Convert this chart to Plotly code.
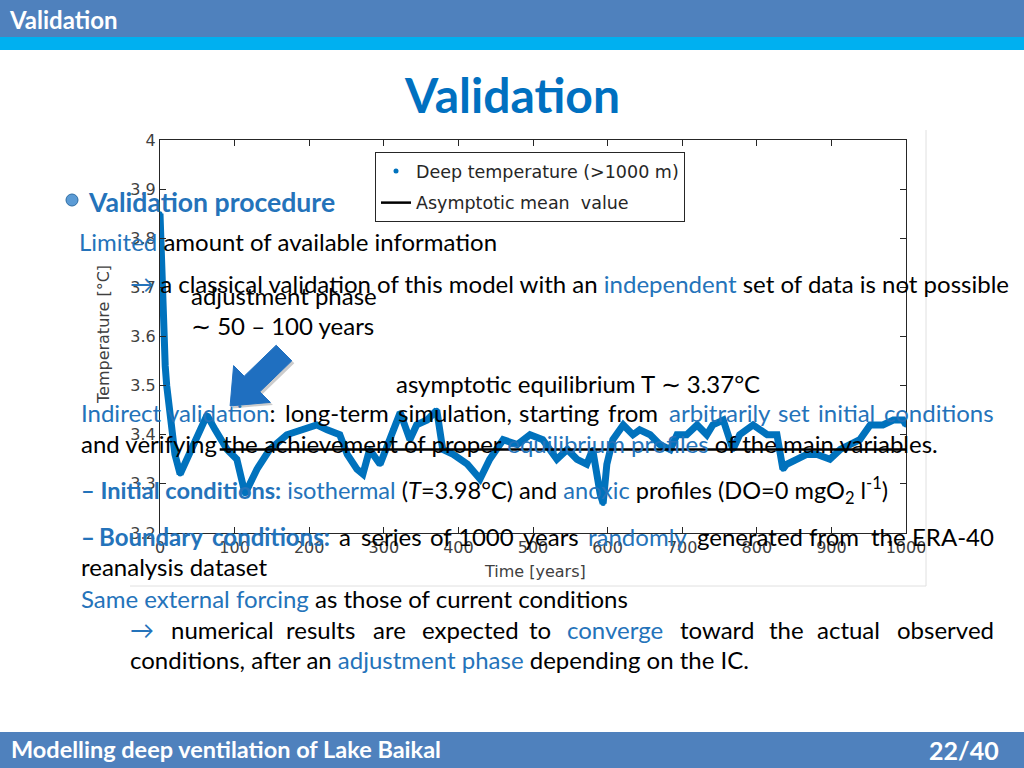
import plotly.graph_objects as go

# ---------------- data ----------------
years = [0, 1, 2, 3, 5, 7, 9, 12, 15, 20, 27, 44, 63, 74, 90, 103, 114, 130, 147, 170,
         188, 210, 224, 241, 251, 264, 272, 281, 295, 312, 322, 335, 344, 358, 371, 379,
         393, 412, 429, 442, 460, 479, 496, 513, 523, 532, 546, 559, 572, 580, 590, 594,
         599, 607, 621, 634, 643, 657, 670, 684, 693, 706, 720, 733, 741, 755, 768, 777,
         795, 814, 827, 835, 840, 854, 867, 881, 898, 912, 925, 938, 952, 969, 983, 996, 1000]
deep_temp = [3.85, 3.80, 3.74, 3.68, 3.60, 3.54, 3.50, 3.46, 3.42, 3.36, 3.32, 3.38, 3.44,
             3.41, 3.37, 3.35, 3.28, 3.33, 3.37, 3.40, 3.41, 3.42, 3.41, 3.40, 3.36, 3.33,
             3.32, 3.37, 3.34, 3.41, 3.445, 3.39, 3.42, 3.43, 3.45, 3.37, 3.36, 3.34, 3.31,
             3.35, 3.39, 3.38, 3.40, 3.39, 3.37, 3.35, 3.37, 3.35, 3.34, 3.37, 3.28, 3.26,
             3.34, 3.39, 3.42, 3.40, 3.41, 3.40, 3.38, 3.37, 3.40, 3.40, 3.42, 3.40, 3.42,
             3.43, 3.37, 3.40, 3.42, 3.40, 3.40, 3.33, 3.34, 3.35, 3.36, 3.36, 3.35, 3.37,
             3.38, 3.39, 3.42, 3.42, 3.43, 3.43, 3.42]
mean_years = [80, 1000]
mean_value = [3.37, 3.37]

x_ticks = [0, 100, 200, 300, 400, 500, 600, 700, 800, 900, 1000]
y_ticks = [3.2, 3.3, 3.4, 3.5, 3.6, 3.7, 3.8, 3.9, 4.0]

# ---------------- layout helpers ----------------
W, H = 1024, 768
L, R, T, B = 160, 906, 140, 533


def PX(px):
    return (px - L) / (R - L)


def PY(py):
    return (B - py) / (B - T)


BLUE_T = "#0070C0"
BLUE = "#2473BA"
SER = "#0072BD"
FONT = "Lato"
AXF = "DejaVu Sans"

fig = go.Figure()
fig.add_trace(go.Scatter(x=years, y=deep_temp, mode="lines",
                         line=dict(color=SER, width=7), showlegend=False,
                         hoverinfo="skip"))
fig.add_trace(go.Scatter(x=years, y=deep_temp, mode="markers",
                         marker=dict(color=SER, size=5),
                         name="Deep temperature (>1000 m)", legendgroup="a"))
fig.add_trace(go.Scatter(x=mean_years, y=mean_value, mode="lines",
                         line=dict(color="black", width=2.5),
                         name="Asymptotic mean  value", legendgroup="b"))

shapes = []
# header bands
shapes.append(dict(type="rect", xref="paper", yref="paper", x0=PX(0), x1=PX(W),
                   y0=PY(0), y1=PY(37), fillcolor="#4F81BD", line=dict(width=0)))
shapes.append(dict(type="rect", xref="paper", yref="paper", x0=PX(0), x1=PX(W),
                   y0=PY(37), y1=PY(50), fillcolor="#00B0F0", line=dict(width=0)))
# footer band
shapes.append(dict(type="rect", xref="paper", yref="paper", x0=PX(0), x1=PX(W),
                   y0=PY(732), y1=PY(H), fillcolor="#4F81BD", line=dict(width=0)))
# chart image frame (right / bottom edges)
shapes.append(dict(type="line", xref="paper", yref="paper", x0=PX(926), x1=PX(926),
                   y0=PY(130), y1=PY(586), line=dict(color="#E0E0E0", width=1)))
shapes.append(dict(type="line", xref="paper", yref="paper", x0=PX(130), x1=PX(926),
                   y0=PY(586), y1=PY(586), line=dict(color="#E0E0E0", width=1)))
# bullet
shapes.append(dict(type="circle", xref="paper", yref="paper", x0=PX(66), x1=PX(78),
                   y0=PY(194), y1=PY(206), fillcolor="#5B9BD5",
                   line=dict(color="#2E6DA4", width=1)))


def path(pts):
    return "M " + " L ".join(f"{PX(a):.5f},{PY(b):.5f}" for a, b in pts) + " Z"


# blue block arrow (pointing down-left)
arrow = [(291.8, 360.8), (259.8, 391.8), (270.4, 402.4), (230.1, 405.9),
         (233.6, 365.6), (244.2, 376.2), (276.2, 345.2)]
shadow = [(a + 2.5, b + 2.5) for a, b in arrow]
shapes.append(dict(type="path", xref="paper", yref="paper", path=path(shadow),
                   fillcolor="rgba(110,110,110,0.35)", line=dict(width=0), layer="above"))
shapes.append(dict(type="path", xref="paper", yref="paper", path=path(arrow),
                   fillcolor="#1F6FC0", line=dict(color="#1F6FC0", width=1), layer="above"))

ann = []


def text(px, py, s, size=24, color="black", anchor="left", bold=False, angle=0, family=FONT):
    if bold:
        s = "<b>" + s + "</b>"
    if anchor == "left":
        px -= 3
    elif anchor == "right":
        px += 3
    ann.append(dict(xref="paper", yref="paper", x=PX(px), y=PY(py), text=s,
                    showarrow=False, xanchor=anchor, yanchor="middle",
                    font=dict(family=family, size=size, color=color), textangle=angle))


def b(s):
    return f"<span style='color:{BLUE}'>{s}</span>"


def justified(py, words, right_edge=993):
    """words: list of (left_px, html); the last word is right-aligned to right_edge"""
    for i, (px, s) in enumerate(words):
        if i == len(words) - 1:
            text(right_edge, py, s, anchor="right")
        else:
            text(px, py, s)


# header / footer / title
text(10, 20, "Validation", size=24, color="white", bold=True)
text(512, 95, "Validation", size=48, color=BLUE_T, bold=True, anchor="center")
text(12, 749, "Modelling deep ventilation of Lake Baikal", size=23.5, color="white", bold=True)
text(998, 750, "22/40", size=25, color="white", bold=True, anchor="right")

# axis titles
text(535, 571, "Time [years]", size=16, color="#404040", family=AXF, anchor="center")
text(103, 335, "Temperature [°C]", size=16, color="#404040", family=AXF,
     anchor="center", angle=-90)

# slide body
text(89, 202, "Validation procedure", size=26.6, color=BLUE, bold=True)
text(80, 241, b("Limited") + " amount of available information")
text(131, 283, b("→") + " a classical validation of this model with an " + b("independent")
     + " set of data is not possible")
text(192, 295, "adjustment phase")
text(192, 325, "∼ 50 – 100 years")
text(397, 383, "asymptotic equilibrium T ∼ 3.37°C")
justified(412, [(82, b("Indirect")), (168, b("validation") + ":"), (286, "long-term"),
                (399, "simulation,"), (520, "starting"), (609, "from"),
                (670, b("arbitrarily")), (779, b("set")), (819, b("initial")),
                (0, b("conditions"))])
text(82, 443, "and verifying the achievement of proper " + b("equilibrium profiles")
     + " of the main variables.")
text(82, 490, b("<b>– Initial conditions:</b> isothermal") + " (<i>T</i>=3.98°C) and "
     + b("anoxic") + " profiles (DO=0 mgO<sub>2</sub> l<sup>-1</sup>)", size=23.6)
justified(536, [(82, b("<b>–</b>")), (100, b("<b>Boundary</b>")), (213, b("<b>conditions:</b>")),
                (340, "a"), (362, "series"), (431, "of"), (459, "1000"), (524, "years"),
                (589, b("randomly")), (698, "generated"), (810, "from"), (872, "the"),
                (0, "ERA-40")])
text(82, 566, "reanalysis dataset")
text(82, 598, b("Same external forcing") + " as those of current conditions")
justified(629, [(131, b("→")), (172, "numerical"), (287, "results"), (374, "are"),
                (423, "expected"), (530, "to"), (568, b("converge")), (681, "toward"),
                (770, "the"), (818, "actual"), (0, "observed")])
text(131, 659, "conditions, after an " + b("adjustment phase") + " depending on the IC.")

axis_common = dict(showline=True, linecolor="#262626", linewidth=1, mirror="ticks",
                   ticks="inside", ticklen=6, tickcolor="#262626", showgrid=False,
                   zeroline=False, tickfont=dict(family=AXF, size=16, color="#404040"))
fig.update_layout(
    width=W, height=H, margin=dict(l=L, r=W - R, t=T, b=H - B),
    paper_bgcolor="white", plot_bgcolor="white",
    xaxis=dict(range=[0, 1000], tickvals=x_ticks, **axis_common),
    yaxis=dict(range=[3.2, 4.0], tickvals=y_ticks,
               ticktext=[f"{v:g}" for v in y_ticks], **axis_common),
    legend=dict(x=PX(375), y=PY(152), xanchor="left", yanchor="top",
                bgcolor="white", bordercolor="#262626", borderwidth=1,
                font=dict(family=AXF, size=17.5, color="#262626"),
                tracegroupgap=6),
    shapes=shapes, annotations=ann,
)
fig.write_html("out.html", config={"displayModeBar": False},
               post_script="document.body.style.margin='0px';")
